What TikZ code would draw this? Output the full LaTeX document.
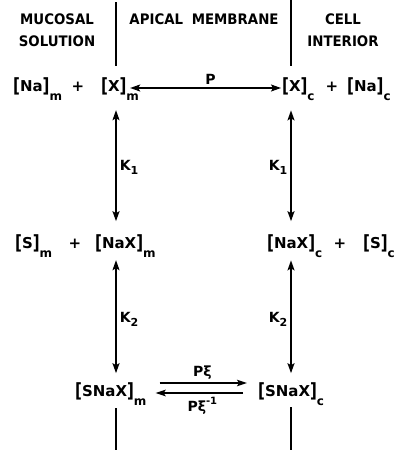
\documentclass[tikz,border=0pt]{standalone}
\usepackage{fontspec}
\usepackage{graphicx}
\setmainfont{DejaVu Sans}
\usetikzlibrary{arrows.meta}
\newfontfamily\headfont[FakeStretch=0.92]{DejaVu Sans}
\newcommand{\subfont}{\fontsize{12}{12}\selectfont}
\newcommand{\lbr}{\raisebox{-0.08em}{\scalebox{1}[1.3]{[}}}
\newcommand{\rbr}{\raisebox{-0.08em}{\scalebox{1}[1.3]{]}}}
\newcommand{\conc}[2]{\lbr#1\rbr\raisebox{-0.6em}{\subfont #2}}
\newcommand{\ksub}[1]{\raisebox{-0.3em}{\fontsize{11}{11}\selectfont #1}}

\begin{document}
\begin{tikzpicture}[x=1pt, y=-1pt,
  every node/.style={font=\bfseries\fontsize{15}{16}\selectfont, inner sep=1pt},
  head/.style={font=\headfont\bfseries\fontsize{14.5}{22}\selectfont, align=center},
  lbl/.style={font=\bfseries\fontsize{14}{15}\selectfont, inner sep=3pt},
  membrane/.style={line width=1.5pt},
  react/.style={{Stealth[length=10pt,width=7pt,inset=2pt]}-{Stealth[length=10pt,width=7pt,inset=2pt]}, line width=1.5pt},
  fwd/.style={-{Stealth[length=10pt,width=6.5pt,inset=2pt]}, line width=1.5pt}
]
\useasboundingbox (0,0) rectangle (402,455);

% membrane boundaries
\coordinate (mL) at (116,0);
\coordinate (mR) at (291,0);
\draw[membrane] (116,2) -- (116,66);
\draw[membrane] (291,0) -- (291,66);
\draw[membrane] (116,408) -- (116,450);
\draw[membrane] (291,407) -- (291,450);

% headings
\node[head] (mucosal) at (57,30) {MUCOSAL\\SOLUTION};
\node[head] (apical) at (204,19) {APICAL\hspace{0.6em}MEMBRANE};
\node[head] (cell) at (343,30) {CELL\\INTERIOR};

% first row
\node[anchor=base west] (Nam) at (12,91) {\conc{Na}{m}};
\node[anchor=base] (plus1) at (78,91) {+};
\node[anchor=base west] (Xm) at (100,91) {\conc{X}{m}};
\node[anchor=base west] (Xc) at (281,91) {\conc{X}{c}};
\node[anchor=base] (plus2) at (332,91) {+};
\node[anchor=base west] (Nac) at (346,91) {\conc{Na}{c}};

% second row
\node[anchor=base west] (Sm) at (14,248) {\conc{S}{m}};
\node[anchor=base] (plus3) at (75,248) {+};
\node[anchor=base west] (NaXm) at (94,248) {\conc{NaX}{m}};
\node[anchor=base west] (NaXc) at (266,248) {\conc{NaX}{c}};
\node[anchor=base] (plus4) at (340,248) {+};
\node[anchor=base west] (Sc) at (362,248) {\conc{S}{c}};

% third row
\node[anchor=base west] (SNaXm) at (74,396) {\conc{SNaX}{m}};
\node[anchor=base west] (SNaXc) at (257,396) {\conc{SNaX}{c}};

% transfer across the membrane
\draw[react, shorten <=-10pt] ([yshift=3pt]Xm.base east) -- node[lbl, above] (P) {P} ([yshift=3pt]Xc.base west);

% binding steps
\draw[react, shorten <=9pt, shorten >=12pt] (Xm.south -| mL) -- node[lbl, right] (K1m) {K\ksub{1}} (NaXm.north -| mL);
\draw[react, shorten <=9pt, shorten >=12pt] (Xc.south -| mR) -- node[lbl, left] (K1c) {K\ksub{1}} (NaXc.north -| mR);
\draw[react, shorten <=2pt, shorten >=8pt] (NaXm.south -| mL) -- node[lbl, right] (K2m) {K\ksub{2}} (SNaXm.north -| mL);
\draw[react, shorten <=2pt, shorten >=8pt] (NaXc.south -| mR) -- node[lbl, left] (K2c) {K\ksub{2}} (SNaXc.north -| mR);

% carrier complex exchange
\draw[fwd, shorten <=12pt, shorten >=10pt] ([yshift=13pt]SNaXm.base east) -- node[lbl, above] (Pxi) {Pξ} ([yshift=13pt]SNaXc.base west);
\draw[fwd, shorten <=14pt, shorten >=8pt] ([yshift=3pt]SNaXc.base west) -- node[lbl, below] (Pxiinv) {Pξ\raisebox{0.5em}{\fontsize{10}{10}\selectfont -1}} ([yshift=3pt]SNaXm.base east);

\end{tikzpicture}
\end{document}
